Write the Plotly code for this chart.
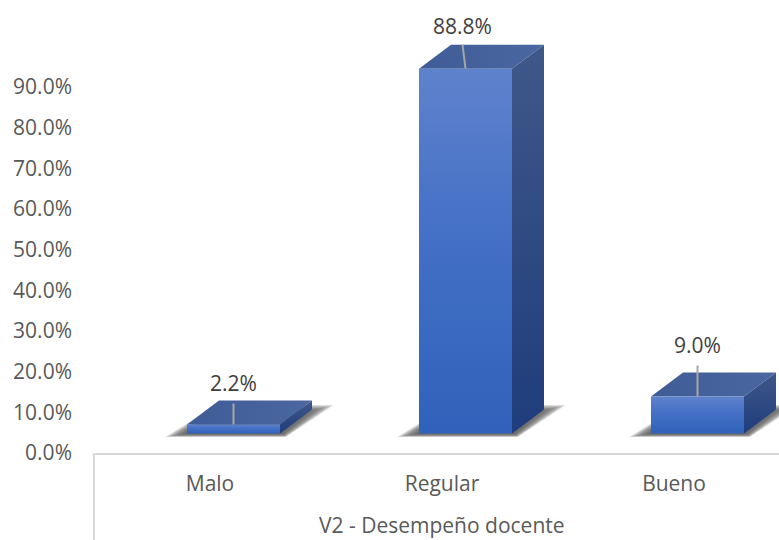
import plotly.graph_objects as go

CATEGORIES = ["Malo", "Regular", "Bueno"]
VALUES = [2.2, 88.8, 9.0]
Y_TICKS = [0, 10, 20, 30, 40, 50, 60, 70, 80, 90]
Y_TICK_LABELS = [f"{v:.1f}%" for v in Y_TICKS]
X_TITLE = "V2 - Desempeño docente"

# pixel geometry of the plot area
W, H = 779, 540
LEFT, ZERO_Y = 94, 453
PX_PER_CAT = 232.0
PX_PER_PCT = 4.067
XR = [-0.5, -0.5 + (W - LEFT) / PX_PER_CAT]
YR = [0, ZERO_Y / PX_PER_PCT]


def ux(px):
    return px / PX_PER_CAT


def uy(px):
    return px / PX_PER_PCT


# 3-D projection parameters
BAR_SHIFT, BAR_W = ux(-23), ux(93)
DEPTH_X, DEPTH_Y = ux(32), uy(24)
FLOOR = uy(19.5)
STRETCH = 1.01

# leader line / label offsets, px above the front top
LEADER_LEN = [21, 24, 31]
LEADER_DX = [0, -3, 0]
LABEL_UP = [39, 40, 49]
LABEL_DX = [0, -3, 0]
FONT = "Open Sans"
FS = 21

FRONT_SCALE = [[0, "#5f82cc"], [0.45, "#4470c6"], [1, "#2f62ba"]]
SIDE_SCALE = [[0, "#3f5889"], [1, "#1f3d7c"]]
TOP_SCALE = [[0, "#3f5c97"], [1, "#4b67a1"]]
SHADOW_LAYERS = 14

fig = go.Figure()


def poly(xs, ys, **kw):
    fig.add_trace(go.Scatter(x=xs + xs[:1], y=ys + ys[:1], mode="lines", fill="toself",
                             line=dict(width=0), hoverinfo="skip", showlegend=False, **kw))


geom = []
for i, v in enumerate(VALUES):
    x0 = i + BAR_SHIFT
    x1 = x0 + BAR_W
    bot = FLOOR
    top = FLOOR + v * STRETCH
    geom.append((x0, x1, bot, top))

# soft shadows: stacked translucent layers, faint outside and denser inward
for x0, x1, bot, top in geom:
    for k in range(SHADOW_LAYERS):
        g = SHADOW_LAYERS - 1 - k
        a = 0.012 + 0.007 * k
        low = bot - uy(3.5 - g * 0.25)
        high = bot + uy(28.5 - g * 0.6)
        poly([x0 + ux(-22 + g * 1.7), x1 + ux(6 - g * 0.3), x1 + ux(32 + 22 - g * 2.2), x0 + ux(30)],
             [low, low, high, high],
             fillcolor=f"rgba(0,0,0,{a:.3f})")

# bar faces
for x0, x1, bot, top in geom:
    poly([x0, x1, x1 + DEPTH_X, x0 + DEPTH_X],
         [top, top, top + DEPTH_Y, top + DEPTH_Y],
         fillgradient=dict(type="horizontal", colorscale=TOP_SCALE, start=x0, stop=x1 + DEPTH_X))
    poly([x1, x1 + DEPTH_X, x1 + DEPTH_X, x1],
         [top, top + DEPTH_Y, bot + DEPTH_Y, bot],
         fillgradient=dict(type="vertical", colorscale=SIDE_SCALE, start=top + DEPTH_Y, stop=bot))
    poly([x0, x1, x1, x0],
         [bot, bot, top, top],
         fillgradient=dict(type="vertical", colorscale=FRONT_SCALE, start=top, stop=bot))

# leader lines
for i, (x0, x1, bot, top) in enumerate(geom):
    cx = (x0 + x1) / 2
    fig.add_trace(go.Scatter(x=[cx, cx + ux(LEADER_DX[i])], y=[top, top + uy(LEADER_LEN[i])], mode="lines",
                             line=dict(color="#a6a6a6", width=2), hoverinfo="skip", showlegend=False))

# data labels
fig.add_trace(go.Scatter(
    x=[(g[0] + g[1]) / 2 + ux(d) for g, d in zip(geom, LABEL_DX)],
    y=[g[3] + uy(u) for g, u in zip(geom, LABEL_UP)],
    mode="text", text=[f"{v:.1f}%" for v in VALUES], textposition="middle center",
    textfont=dict(family=FONT, size=FS, color="#404040"),
    hoverinfo="skip", showlegend=False))

fig.update_layout(
    width=W, height=H, autosize=False,
    margin=dict(l=LEFT, r=0, t=0, b=H - ZERO_Y, pad=0),
    paper_bgcolor="white", plot_bgcolor="white",
    showlegend=False,
    xaxis=dict(range=XR, tickmode="array", tickvals=list(range(len(CATEGORIES))), ticktext=CATEGORIES,
               showgrid=False, zeroline=False, showline=True, linecolor="#d9d9d9", linewidth=2,
               ticks="", ticklabelstandoff=11,
               tickfont=dict(family=FONT, size=FS, color="#595959")),
    yaxis=dict(range=YR, tickmode="array", tickvals=Y_TICKS, ticktext=Y_TICK_LABELS,
               showgrid=False, zeroline=False, showline=False, ticks="", ticklabelstandoff=21,
               tickfont=dict(family=FONT, size=FS, color="#595959")),
    shapes=[dict(type="line", xref="paper", yref="paper", x0=0, x1=0, y0=0, y1=-(H - ZERO_Y) / ZERO_Y,
                 line=dict(color="#d9d9d9", width=2))],
    annotations=[dict(text=X_TITLE, xref="x", yref="paper", x=1, y=(ZERO_Y - 525) / ZERO_Y,
                      xanchor="center", yanchor="middle", showarrow=False,
                      font=dict(family=FONT, size=FS, color="#595959"))],
)

fig.write_html("out.html", config={"displayModeBar": False},
               post_script="document.body.style.margin='0';")
